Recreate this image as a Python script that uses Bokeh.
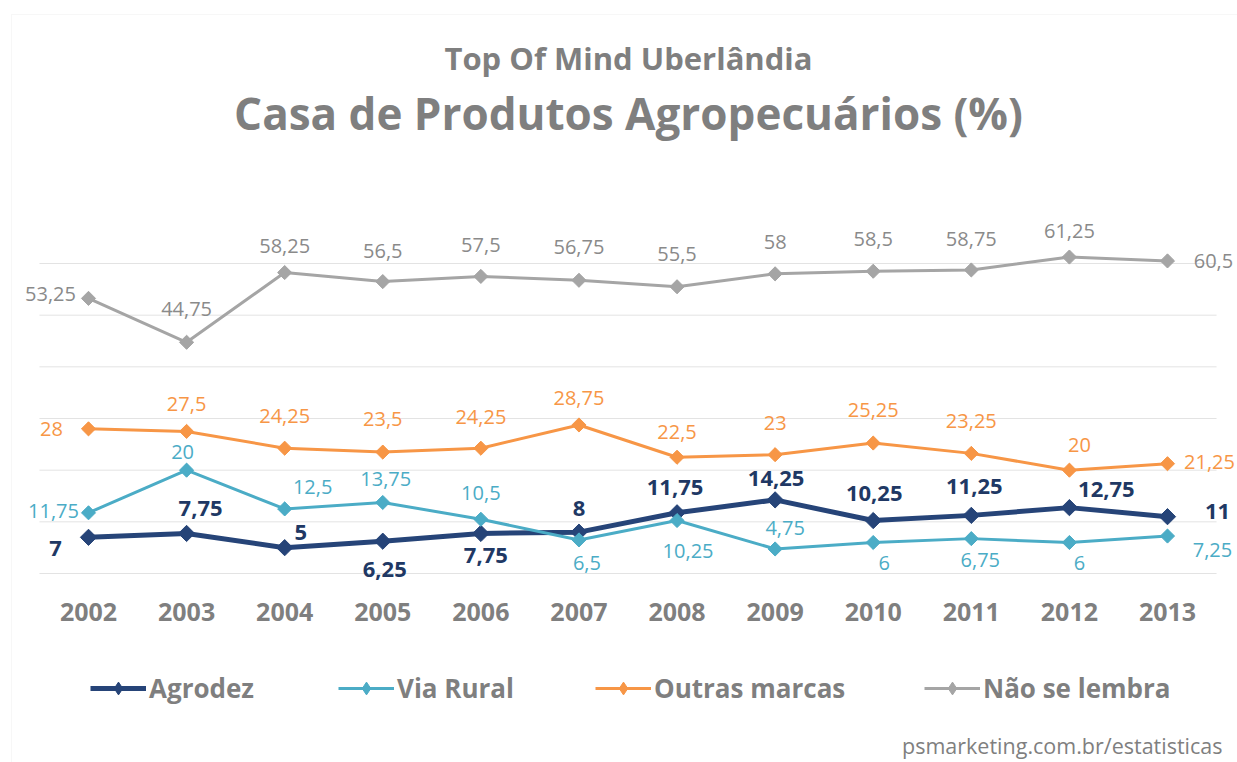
from bokeh.plotting import figure
from bokeh.models import (ColumnDataSource, Range1d, Label, Legend, LegendItem,
                          BoxAnnotation)
from bokeh.core.properties import value
from bokeh.embed import file_html
from bokeh.resources import INLINE
import math

# ---------------- data ----------------
years = [2002, 2003, 2004, 2005, 2006, 2007, 2008, 2009, 2010, 2011, 2012, 2013]
agrodez = [7, 7.75, 5, 6.25, 7.75, 8, 11.75, 14.25, 10.25, 11.25, 12.75, 11]
via_rural = [11.75, 20, 12.5, 13.75, 10.5, 6.5, 10.25, 4.75, 6, 6.75, 6, 7.25]
outras_marcas = [28, 27.5, 24.25, 23.5, 24.25, 28.75, 22.5, 23, 25.25, 23.25, 20, 21.25]
nao_se_lembra = [53.25, 44.75, 58.25, 56.5, 57.5, 56.75, 55.5, 58, 58.5, 58.75, 61.25, 60.5]
series_names = ["Agrodez", "Via Rural", "Outras marcas", "Não se lembra"]
grid_values = [0, 10, 20, 30, 40, 50, 60]
title_top = "Top Of Mind Uberlândia"
title_main = "Casa de Produtos Agropecuários (%)"
source_text = "psmarketing.com.br/estatisticas"

# ---------------- label placement (screen px, +dy = down) ----------------
off_agro = [(-33, 11), (14, -25), (16, -15), (2, 28), (5, 22), (0, -24),
            (-2, -25), (1, -21), (1, -27), (3, -29), (37, -18), (50, -5)]
off_via = [(-35, -2), (-4, -18), (28, -22), (3, -23), (0, -26), (8, 23),
           (11, 30), (10, -21), (11, 20), (9, 21), (10, 20), (45, 14)]
off_outras = [(-37, 0), (0, -27), (0, -32), (0, -33), (0, -31), (0, -27),
              (0, -25), (0, -32), (0, -33), (0, -32), (10, -25), (42, -2)]
off_nao = [(-38, -4), (0, -33), (0, -27), (0, -31), (0, -31), (0, -33),
           (0, -33), (0, -32), (0, -32), (0, -31), (0, -26), (46, 0)]

W, H = 1237, 762
FONT = "Open Sans"

# layout of the plotting frame in page pixels
x_first_px, x_step_px = 88.0, 98.09
y_zero_px, y_unit_px = 573.0, 310.0 / 60.0

x0 = years[0] - x_first_px / x_step_px
x1 = years[0] + (W - x_first_px) / x_step_px
y1 = y_zero_px / y_unit_px
y0 = -(H - y_zero_px) / y_unit_px

p = figure(width=W, height=H, x_range=Range1d(x0, x1), y_range=Range1d(y0, y1),
           x_axis_location=None, y_axis_location=None, toolbar_location=None,
           output_backend="svg", min_border=0, outline_line_color=None,
           background_fill_color="white", border_fill_color="white")
p.grid.visible = False

# outer chart border
p.add_layout(BoxAnnotation(left=11, right=W + 20, top=H - 14, bottom=-20,
                           left_units="screen", right_units="screen",
                           top_units="screen", bottom_units="screen",
                           fill_alpha=0, line_color="#e4e4e4", line_width=1))

# gridlines
p.segment(x0=[years[0] - 0.5] * len(grid_values), x1=[years[-1] + 0.5] * len(grid_values),
          y0=grid_values, y1=grid_values, line_color="#e3e3e3", line_width=1)

def fmt(v):
    return ("%g" % v).replace(".", ",")

specs = [
    (agrodez, off_agro, "#264478", "#203864", 5, 11.5, "bold", "22px"),
    (via_rural, off_via, "#4bacc6", "#4bacc6", 3, 10, "normal", "20px"),
    (outras_marcas, off_outras, "#f79646", "#f79646", 3, 10, "normal", "20px"),
    (nao_se_lembra, off_nao, "#a5a5a5", "#8a8a8a", 3, 10, "normal", "20px"),
]

legend_renderers = []
for vals, offs, lc, tc, lw, ms, fs, fsz in specs:
    src = ColumnDataSource(dict(x=years, y=vals, t=[fmt(v) for v in vals],
                                dx=[o[0] for o in offs], dy=[o[1] for o in offs]))
    lr = p.line("x", "y", source=src, line_color=lc, line_width=lw)
    # diamond used for the legend symbol (hidden under the plot marker)
    dr = p.scatter("x", "y", source=src, marker="diamond", size=ms * 1.25,
                   fill_color=lc, line_color=lc)
    p.scatter("x", "y", source=src, marker="square", size=ms, angle=math.pi / 4,
              fill_color=lc, line_color=lc)
    legend_renderers.append((lr, dr))
    p.text("x", "y", text="t", source=src, x_offset="dx", y_offset="dy",
           text_align="center", text_baseline="middle", text_color=tc,
           text_font=value(FONT), text_font_size=fsz, text_font_style=fs)

# category (year) labels
ysrc = ColumnDataSource(dict(x=years, y=[0] * len(years), t=[str(y) for y in years]))
p.text("x", "y", text="t", source=ysrc, y_offset=38, text_align="center",
       text_baseline="middle", text_color="#7f7f7f", text_font=value(FONT),
       text_font_size="25px", text_font_style="bold")

# titles and source
p.add_layout(Label(x=628, y=H - 57, x_units="screen", y_units="screen", text=title_top,
                   text_align="center", text_baseline="middle", text_color="#7f7f7f",
                   text_font=FONT, text_font_size="31px", text_font_style="bold"))
p.add_layout(Label(x=628, y=H - 112, x_units="screen", y_units="screen", text=title_main,
                   text_align="center", text_baseline="middle", text_color="#7f7f7f",
                   text_font=FONT, text_font_size="44px", text_font_style="bold"))
p.add_layout(Label(x=1222, y=H - 745, x_units="screen", y_units="screen", text=source_text,
                   text_align="right", text_baseline="middle", text_color="#7f7f7f",
                   text_font=FONT, text_font_size="21.5px"))

# legends, one per item, placed as in the reference
legend_x = [90, 338, 595, 924]
for name, (lr, dr), lx in zip(series_names, legend_renderers, legend_x):
    leg = Legend(items=[LegendItem(label=name, renderers=[lr, dr])],
                 location=(lx, H - 706), orientation="horizontal",
                 padding=0, margin=0, border_line_color=None, background_fill_alpha=0,
                 glyph_width=56, glyph_height=32, label_height=32, label_standoff=3,
                 label_text_font=FONT, label_text_font_size="26px",
                 label_text_font_style="bold", label_text_color="#7f7f7f")
    p.add_layout(leg)

open("out.html", "w").write(file_html(p, INLINE))
